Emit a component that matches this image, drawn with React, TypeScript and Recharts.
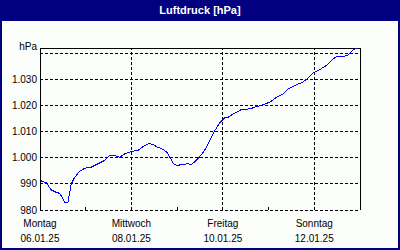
import { LineChart, Line, XAxis, YAxis, CartesianGrid, ReferenceLine } from 'recharts';

// hours since Monday 06.01.25 00:00
const hours = [
  0, 3.3, 5.9, 8.6, 10.3, 12.1, 13.3, 14.7, 15.6, 16.4, 18.2, 20.8, 23.5, 26.9, 30.4, 34, 36.6,
  39.2, 41.8, 44.5, 47.9, 51.4, 54.2, 56.9, 59.5, 61.3, 63.9, 66.5, 68.2, 70, 71.8, 74.4, 77.8,
  79.6, 82.3, 84.9, 87.5, 90.1, 91.9, 94.5, 97.1, 98.8, 101.5, 105.9, 110.2, 113.8, 117.2, 120.7,
  124.3, 127.7, 130.3, 133, 135.6, 137.4, 140, 143.5, 147, 150.5, 153.1, 155.7, 160.1, 161.8,
  163.6, 165.4, 166.8,
];
const pressure = [
  991.3, 990.4, 987.7, 986.7, 986.4, 984.2, 982.7, 982.9, 986.8, 990, 992.5, 994.8, 996, 996.4,
  997.7, 999, 1000.9, 1000.9, 1000.2, 1001.5, 1002.4, 1002.8, 1004.3, 1005.4, 1005.1, 1004.1,
  1003.5, 1002.2, 1000.2, 997.7, 997, 997.4, 997.7, 997.4, 999.2, 1001.3, 1004.1, 1007.9, 1010.5,
  1013.5, 1015.3, 1015.5, 1016.8, 1018.5, 1018.7, 1019.6, 1020.3, 1021.3, 1023.2, 1024.5, 1026.4,
  1027.3, 1028.3, 1028.7, 1030, 1032.5, 1033.8, 1035.4, 1037.3, 1038.8, 1038.9, 1039.4, 1040.8,
  1041.7, 1041.8,
];

const dayTicks = [0, 24, 48, 72, 96, 120, 144, 168];
const gridHours = [48, 96, 144];
const dayNames = ['Montag', 'Mittwoch', 'Freitag', 'Sonntag'];
const dayDates = ['06.01.25', '08.01.25', '10.01.25', '12.01.25'];

const yMin = 980;
const yTop = 1042;
const yTicks = [980, 990, 1000, 1010, 1020, 1030, 1040, 1042];

const data = hours.map((h, i) => ({ h, p: pressure[i] }));

const font = '"Liberation Sans", Arial, sans-serif';

const fmt = (v: number) => (v >= 1000 ? `1.${String(v - 1000).padStart(3, '0')}` : String(v));

const DayTick = (props: any) => {
  const { x, y, payload } = props;
  const v = payload.value;
  const idx = v % 48 === 0 ? v / 48 : -1;
  return (
    <g>
      <line x1={x} x2={x} y1={y} y2={y - 3} stroke="#000" />
      {idx >= 0 && idx < dayNames.length && (
        <g fontFamily={font} fontSize={10} fill="#000" textAnchor="middle">
          <text x={x} y={y + 17}>{dayNames[idx]}</text>
          <text x={x} y={y + 32}>{dayDates[idx]}</text>
        </g>
      )}
    </g>
  );
};

const PressureTick = (props: any) => {
  const { x, y, payload } = props;
  const v = payload.value;
  if (v === 1040) return <g />;
  const label = v === yTop ? 'hPa' : fmt(v);
  return (
    <text x={x} y={v === yTop ? y - 2 : y} dy="0.35em" textAnchor="end" fontFamily={font} fontSize={10} fill="#000">
      {label}
    </text>
  );
};

export default function App() {
  return (
    <div style={{ position: 'absolute', left: 0, top: 0, width: 400, height: 250, background: '#000080' }}>
      <style>{'.recharts-surface { shape-rendering: crispEdges; }'}</style>
      <div
        style={{
          position: 'absolute', left: 0, top: 0, width: 400, height: 21, lineHeight: '20px',
          textAlign: 'center', color: '#fff', fontFamily: font, fontWeight: 'bold', fontSize: 11,
        }}
      >
        Luftdruck [hPa]
      </div>
      <div style={{ position: 'absolute', left: 2, top: 21, width: 396, height: 227, background: '#fcfefc' }} />
      <div style={{ position: 'absolute', left: 0, top: 0 }}>
        <LineChart width={400} height={250} data={data} margin={{ top: 48, right: 40, bottom: 0, left: 0 }}>
          <CartesianGrid vertical={false} stroke="#000" strokeDasharray="3 2" />
          {gridHours.map((h) => (
            <ReferenceLine key={h} x={h} stroke="#000" strokeDasharray="3 2" />
          ))}
          <ReferenceLine y={yTop} stroke="#000" />
          <ReferenceLine x={168} stroke="#000" />
          <XAxis
            type="number"
            dataKey="h"
            domain={[0, 168]}
            ticks={dayTicks}
            interval={0}
            height={40}
            axisLine={false}
            tickLine={false}
            tickSize={0}
            tickMargin={0}
            tick={<DayTick />}
          />
          <YAxis
            type="number"
            domain={[yMin, yTop]}
            ticks={yTicks}
            interval={0}
            width={40}
            axisLine={{ stroke: '#000' }}
            tickLine={false}
            tickSize={0}
            tickMargin={3}
            tick={<PressureTick />}
          />
          <Line type="linear" dataKey="p" stroke="#0000ff" strokeWidth={1} dot={false} isAnimationActive={false} />
        </LineChart>
      </div>
    </div>
  );
}
